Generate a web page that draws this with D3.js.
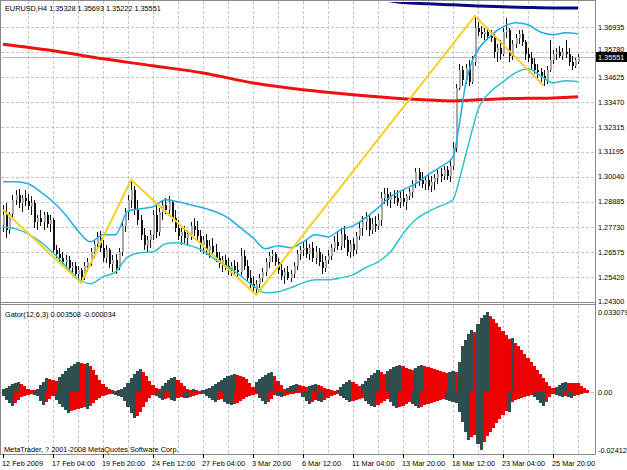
<!DOCTYPE html>
<html><head><meta charset="utf-8">
<script src="https://cdn.jsdelivr.net/npm/d3@7"></script>
<style>
html,body{margin:0;padding:0;background:#fff;}
svg{display:block;font-family:"Liberation Sans",Arial,sans-serif;}
</style></head><body>
<svg id="c" width="627" height="470"></svg>
<script>
const symbolTitle = "EURUSD,H4  1.35328 1.35693 1.35222 1.35551";
const gatorTitle = "Gator(12,6,3) 0.003508 -0.000034";
const copyright = "MetaTrader, ? 2001-2008 MetaQuotes Software Corp.";
const timeLabelBars = [0,16,32,48,64,80,96,112,128,144,160,176];
const timeLabels = ["12 Feb 2009","17 Feb 04:00","19 Feb 20:00","24 Feb 12:00","27 Feb 04:00","3 Mar 20:00","6 Mar 12:00","11 Mar 04:00","13 Mar 20:00","18 Mar 12:00","23 Mar 04:00","25 Mar 20:00"];
const priceTicks = [1.36935,1.35780,1.34625,1.33470,1.32315,1.31195,1.30040,1.28885,1.27730,1.26575,1.25420,1.24300];
const priceTickLabels = ["1.36935","1.35780","1.34625","1.33470","1.32315","1.31195","1.30040","1.28885","1.27730","1.26575","1.25420","1.24300"];
const gatorTicks = [0.033079,0.0,-0.02412];
const gatorTickLabels = ["0.033079","0.00","-0.02412"];
const bidPrice = 1.35551;
const bidLabel = "1.35551";

const open = [1.2783,1.2829,1.2760,1.2833,1.2898,1.2921,1.2884,1.2907,1.2893,1.2870,
1.2884,1.2797,1.2815,1.2797,1.2829,1.2787,1.2806,1.2667,1.2649,1.2631,
1.2612,1.2621,1.2585,1.2594,1.2557,1.2575,1.2543,1.2594,1.2612,1.2658,
1.2695,1.2723,1.2677,1.2631,1.2667,1.2603,1.2621,1.2585,1.2658,1.2778,
1.2843,1.2898,1.2944,1.2852,1.2806,1.2737,1.2691,1.2714,1.2737,1.2829,
1.2750,1.2843,1.2875,1.2852,1.2889,1.2815,1.2769,1.2732,1.2750,1.2723,
1.2741,1.2778,1.2760,1.2732,1.2691,1.2714,1.2667,1.2686,1.2658,1.2631,
1.2603,1.2621,1.2594,1.2575,1.2594,1.2575,1.2566,1.2640,1.2594,1.2538,
1.2511,1.2492,1.2511,1.2538,1.2566,1.2612,1.2640,1.2649,1.2612,1.2575,
1.2548,1.2566,1.2538,1.2557,1.2594,1.2649,1.2667,1.2677,1.2649,1.2677,
1.2631,1.2658,1.2612,1.2585,1.2621,1.2640,1.2677,1.2704,1.2686,1.2741,
1.2714,1.2658,1.2695,1.2667,1.2732,1.2769,1.2797,1.2815,1.2760,1.2787,
1.2778,1.2806,1.2907,1.2926,1.2898,1.2916,1.2907,1.2889,1.2907,1.2889,
1.2916,1.2935,1.2972,1.3027,1.2990,1.2972,1.2990,1.2963,1.2981,1.2999,
1.3018,1.3009,1.3036,1.3009,1.3055,1.3138,1.3414,1.3497,1.3451,1.3507,
1.3442,1.3534,1.3691,1.3672,1.3663,1.3672,1.3654,1.3645,1.3580,1.3599,
1.3571,1.3672,1.3682,1.3562,1.3617,1.3645,1.3663,1.3626,1.3571,1.3553,
1.3525,1.3497,1.3488,1.3470,1.3451,1.3497,1.3543,1.3571,1.3580,1.3562,
1.3580,1.3571,1.3534,1.3516,1.35328];
const high = [1.2875,1.2884,1.2843,1.2921,1.2944,1.2949,1.2921,1.2944,1.2926,1.2916,
1.2898,1.2829,1.2852,1.2843,1.2843,1.2829,1.2815,1.2691,1.2677,1.2658,
1.2644,1.2640,1.2612,1.2612,1.2594,1.2585,1.2612,1.2631,1.2677,1.2714,
1.2750,1.2755,1.2714,1.2691,1.2677,1.2644,1.2649,1.2677,1.2797,1.2861,
1.2921,1.2990,1.2963,1.2898,1.2829,1.2769,1.2732,1.2760,1.2852,1.2875,
1.2861,1.2898,1.2907,1.2916,1.2898,1.2852,1.2806,1.2769,1.2778,1.2760,
1.2797,1.2815,1.2801,1.2760,1.2732,1.2741,1.2714,1.2723,1.2695,1.2658,
1.2640,1.2644,1.2631,1.2612,1.2621,1.2612,1.2677,1.2667,1.2621,1.2575,
1.2548,1.2529,1.2557,1.2585,1.2631,1.2658,1.2667,1.2658,1.2631,1.2612,
1.2585,1.2594,1.2575,1.2612,1.2667,1.2686,1.2704,1.2714,1.2695,1.2704,
1.2686,1.2677,1.2649,1.2640,1.2667,1.2695,1.2732,1.2750,1.2769,1.2778,
1.2732,1.2714,1.2723,1.2750,1.2797,1.2824,1.2843,1.2833,1.2815,1.2824,
1.2833,1.2935,1.2953,1.2953,1.2935,1.2944,1.2944,1.2935,1.2944,1.2926,
1.2953,1.2990,1.3046,1.3046,1.3027,1.3009,1.3018,1.3009,1.3018,1.3036,
1.3046,1.3055,1.3055,1.3082,1.3165,1.3433,1.3525,1.3516,1.3525,1.3543,
1.3562,1.3746,1.3719,1.3700,1.3691,1.3691,1.3682,1.3663,1.3617,1.3636,
1.3691,1.3737,1.3691,1.3636,1.3663,1.3682,1.3682,1.3636,1.3599,1.3580,
1.3553,1.3525,1.3507,1.3497,1.3516,1.3636,1.3589,1.3599,1.3608,1.3599,
1.3636,1.3599,1.3562,1.3553,1.35693];
const low = [1.2750,1.2723,1.2741,1.2820,1.2875,1.2861,1.2843,1.2870,1.2852,1.2829,
1.2769,1.2760,1.2778,1.2760,1.2769,1.2750,1.2654,1.2631,1.2612,1.2598,
1.2575,1.2566,1.2548,1.2538,1.2529,1.2515,1.2529,1.2566,1.2594,1.2631,
1.2667,1.2658,1.2612,1.2608,1.2585,1.2566,1.2557,1.2575,1.2640,1.2750,
1.2806,1.2861,1.2829,1.2783,1.2714,1.2667,1.2658,1.2677,1.2714,1.2723,
1.2732,1.2806,1.2833,1.2833,1.2797,1.2750,1.2714,1.2691,1.2695,1.2686,
1.2714,1.2732,1.2714,1.2658,1.2649,1.2644,1.2631,1.2640,1.2612,1.2585,
1.2566,1.2575,1.2552,1.2548,1.2557,1.2538,1.2552,1.2575,1.2520,1.2492,
1.2474,1.2460,1.2492,1.2520,1.2548,1.2585,1.2612,1.2594,1.2557,1.2529,
1.2511,1.2529,1.2520,1.2538,1.2575,1.2621,1.2640,1.2631,1.2621,1.2612,
1.2603,1.2594,1.2557,1.2566,1.2603,1.2621,1.2658,1.2667,1.2667,1.2677,
1.2640,1.2631,1.2640,1.2649,1.2714,1.2732,1.2760,1.2732,1.2741,1.2750,
1.2760,1.2778,1.2880,1.2870,1.2861,1.2880,1.2870,1.2861,1.2870,1.2852,
1.2898,1.2907,1.2953,1.2963,1.2953,1.2944,1.2944,1.2935,1.2944,1.2972,
1.2981,1.2990,1.2990,1.2981,1.3036,1.3119,1.3405,1.3424,1.3433,1.3424,
1.3433,1.3516,1.3654,1.3645,1.3636,1.3636,1.3626,1.3553,1.3534,1.3543,
1.3562,1.3645,1.3534,1.3543,1.3599,1.3617,1.3608,1.3543,1.3534,1.3497,
1.3479,1.3460,1.3442,1.3424,1.3433,1.3488,1.3525,1.3543,1.3553,1.3543,
1.3553,1.3516,1.3497,1.3507,1.35222];
const close = [1.2829,1.2760,1.2833,1.2898,1.2921,1.2884,1.2907,1.2893,1.2870,1.2884,
1.2797,1.2815,1.2797,1.2829,1.2787,1.2806,1.2667,1.2649,1.2631,1.2612,
1.2621,1.2585,1.2594,1.2557,1.2575,1.2543,1.2594,1.2612,1.2658,1.2695,
1.2723,1.2677,1.2631,1.2667,1.2603,1.2621,1.2585,1.2658,1.2778,1.2843,
1.2898,1.2944,1.2852,1.2806,1.2737,1.2691,1.2714,1.2737,1.2829,1.2750,
1.2843,1.2875,1.2852,1.2889,1.2815,1.2769,1.2732,1.2750,1.2723,1.2741,
1.2778,1.2760,1.2732,1.2691,1.2714,1.2667,1.2686,1.2658,1.2631,1.2603,
1.2621,1.2594,1.2575,1.2594,1.2575,1.2566,1.2640,1.2594,1.2538,1.2511,
1.2492,1.2511,1.2538,1.2566,1.2612,1.2640,1.2649,1.2612,1.2575,1.2548,
1.2566,1.2538,1.2557,1.2594,1.2649,1.2667,1.2677,1.2649,1.2677,1.2631,
1.2658,1.2612,1.2585,1.2621,1.2640,1.2677,1.2704,1.2686,1.2741,1.2714,
1.2658,1.2695,1.2667,1.2732,1.2769,1.2797,1.2815,1.2760,1.2787,1.2778,
1.2806,1.2907,1.2926,1.2898,1.2916,1.2907,1.2889,1.2907,1.2889,1.2916,
1.2935,1.2972,1.3027,1.2990,1.2972,1.2990,1.2963,1.2981,1.2999,1.3018,
1.3009,1.3036,1.3009,1.3055,1.3138,1.3414,1.3497,1.3451,1.3507,1.3442,
1.3534,1.3691,1.3672,1.3663,1.3672,1.3654,1.3645,1.3580,1.3599,1.3571,
1.3672,1.3682,1.3562,1.3617,1.3645,1.3663,1.3626,1.3571,1.3553,1.3525,
1.3497,1.3488,1.3470,1.3451,1.3497,1.3543,1.3571,1.3580,1.3562,1.3580,
1.3571,1.3534,1.3516,1.3543,1.35551];

const bandBars = [0,4,8,12,16,20,24,28,32,36,40,44,48,52,56,60,64,68,72,76,80,84,88,92,96,100,104,108,112,116,120,124,128,132,136,140,144,146,148,150,152,156,160,164,168,172,176,180,184];
const upperBand = [1.2981,1.2981,1.2972,1.2935,1.2889,1.2829,1.2755,1.2704,1.2737,1.2737,1.2847,1.2857,1.2866,1.2898,1.2889,1.2875,1.2861,1.2843,1.2815,1.2769,1.2723,1.2672,1.2686,1.2677,1.2704,1.2737,1.2727,1.2760,1.2778,1.2815,1.2861,1.2912,1.2944,1.2972,1.3013,1.3050,1.3096,1.3244,1.3428,1.3534,1.3590,1.3654,1.3696,1.3714,1.3705,1.3672,1.3659,1.3668,1.3663];
const lowerBand = [1.2774,1.2764,1.2741,1.2704,1.2654,1.2594,1.2534,1.2511,1.2543,1.2566,1.2635,1.2654,1.2658,1.2695,1.2700,1.2686,1.2663,1.2621,1.2589,1.2548,1.2502,1.2469,1.2474,1.2492,1.2515,1.2529,1.2529,1.2538,1.2552,1.2585,1.2612,1.2658,1.2741,1.2806,1.2843,1.2870,1.2898,1.2990,1.3101,1.3211,1.3313,1.3396,1.3442,1.3483,1.3502,1.3470,1.3437,1.3447,1.3442];

const maBars = [0,16,32,48,64,80,96,112,128,144,152,160,176,184];
const maRed = [1.3615,1.3585,1.3548,1.3516,1.3483,1.3437,1.3405,1.3382,1.3364,1.3354,1.3359,1.3364,1.3368,1.3373];
const navyBars = [120,128,136,144,152,160,168,176,184];
const maNavy = [1.3825,1.3808,1.3802,1.3797,1.3792,1.3788,1.3785,1.3783,1.3783];

const zigzagBars = [0,25,41,81,151,173];
const zigzagPrices = [1.2852,1.2515,1.2990,1.2460,1.3746,1.3424];

const gatorUp = [0.0012,0.0017,0.0025,0.0033,0.0037,0.0041,0.0033,0.0025,0.0012,0.0008,
0.0008,0.0012,0.0029,0.0041,0.0058,0.0054,0.0050,0.0045,0.0062,0.0074,
0.0087,0.0099,0.0107,0.0116,0.0124,0.0120,0.0116,0.0120,0.0107,0.0091,
0.0070,0.0050,0.0033,0.0021,0.0012,0.0008,0.0004,0.0008,0.0012,0.0021,
0.0037,0.0058,0.0074,0.0087,0.0095,0.0083,0.0066,0.0045,0.0029,0.0017,
0.0012,0.0025,0.0037,0.0050,0.0058,0.0062,0.0050,0.0037,0.0025,0.0012,
0.0008,0.0012,0.0008,0.0004,0.0008,0.0012,0.0017,0.0025,0.0033,0.0041,
0.0050,0.0058,0.0066,0.0070,0.0074,0.0070,0.0066,0.0062,0.0054,0.0037,
0.0021,0.0041,0.0054,0.0062,0.0070,0.0078,0.0083,0.0066,0.0045,0.0029,
0.0012,0.0017,0.0025,0.0029,0.0033,0.0029,0.0025,0.0021,0.0025,0.0029,
0.0033,0.0029,0.0025,0.0017,0.0012,0.0008,0.0004,0.0008,0.0021,0.0033,
0.0041,0.0050,0.0041,0.0033,0.0025,0.0033,0.0045,0.0058,0.0070,0.0078,
0.0091,0.0083,0.0074,0.0087,0.0095,0.0103,0.0107,0.0112,0.0107,0.0099,
0.0095,0.0091,0.0099,0.0107,0.0112,0.0107,0.0103,0.0099,0.0095,0.0091,
0.0087,0.0083,0.0078,0.0083,0.0087,0.0083,0.0124,0.0190,0.0215,0.0240,
0.0256,0.0248,0.0281,0.0306,0.0318,0.033079,0.0314,0.0301,0.0285,0.0268,
0.0252,0.0235,0.0219,0.0223,0.0202,0.0190,0.0173,0.0157,0.0140,0.0124,
0.0107,0.0091,0.0074,0.0058,0.0041,0.0025,0.0017,0.0021,0.0029,0.0037,
0.0041,0.0039,0.0037,0.0036,0.003508,0.0025,0.0017,0.0008];
const gatorDown = [-0.0017,-0.0033,-0.0045,-0.0058,-0.0045,-0.0033,-0.0021,-0.0017,-0.0012,-0.0010,
-0.0012,-0.0017,-0.0037,-0.0054,-0.0041,-0.0029,-0.0017,-0.0033,-0.0050,-0.0062,
-0.0074,-0.0087,-0.0078,-0.0074,-0.0070,-0.0066,-0.0062,-0.0070,-0.0058,-0.0045,
-0.0033,-0.0025,-0.0017,-0.0012,-0.0008,-0.0010,-0.0012,-0.0017,-0.0021,-0.0037,
-0.0062,-0.0087,-0.0107,-0.0099,-0.0083,-0.0062,-0.0041,-0.0025,-0.0012,-0.0017,
-0.0025,-0.0033,-0.0029,-0.0025,-0.0033,-0.0037,-0.0025,-0.0021,-0.0023,-0.0025,
-0.0021,-0.0017,-0.0012,-0.0008,-0.0010,-0.0017,-0.0025,-0.0033,-0.0041,-0.0033,
-0.0029,-0.0041,-0.0050,-0.0054,-0.0050,-0.0045,-0.0037,-0.0029,-0.0021,-0.0017,
-0.0012,-0.0008,-0.0025,-0.0037,-0.0050,-0.0041,-0.0029,-0.0012,-0.0017,-0.0021,
-0.0017,-0.0012,-0.0010,-0.0008,-0.0006,-0.0004,-0.0021,-0.0037,-0.0050,-0.0041,
-0.0033,-0.0037,-0.0041,-0.0033,-0.0025,-0.0017,-0.0012,-0.0008,-0.0017,-0.0025,
-0.0033,-0.0041,-0.0037,-0.0033,-0.0029,-0.0025,-0.0037,-0.0050,-0.0058,-0.0062,
-0.0054,-0.0045,-0.0037,-0.0029,-0.0041,-0.0058,-0.0066,-0.0062,-0.0058,-0.0050,
-0.0041,-0.0050,-0.0058,-0.0066,-0.0062,-0.0054,-0.0050,-0.0045,-0.0041,-0.0037,
-0.0033,-0.0029,-0.0033,-0.0037,-0.0041,-0.0045,-0.0083,-0.0124,-0.0165,-0.0198,
-0.0186,-0.0178,-0.0215,-0.02412,-0.0207,-0.0182,-0.0165,-0.0149,-0.0128,-0.0112,
-0.0095,-0.0078,-0.0083,-0.0041,-0.0033,-0.0029,-0.0025,-0.0021,-0.0017,-0.0012,
-0.0021,-0.0033,-0.0045,-0.0058,-0.0041,-0.0021,-0.0008,-0.0012,-0.0017,-0.0021,
-0.0017,-0.0021,-0.0025,-0.0017,-0.0012,-0.0008,-0.0006,-0.0004];

// ---------- drawing ----------
const svg = d3.select("#c");
const FS = 7.3;
const L = 1, R = 595, mainTop = 1, mainBottom = 302, gTop = 305, gBottom = 454;
const x = d3.scaleLinear().domain([0, 184]).range([3, 578]);
const y = d3.scaleLinear().domain([1.25420, 1.36935]).range([277, 27.3]);
const yg = d3.scaleLinear().domain([-0.02412, 0.033079]).range([450.3, 312]);

const defs = svg.append("defs");
defs.append("clipPath").attr("id","cm").append("rect").attr("x",L+1).attr("y",mainTop+1).attr("width",R-L-1).attr("height",mainBottom-mainTop-1);
defs.append("clipPath").attr("id","cg").append("rect").attr("x",L+1).attr("y",gTop).attr("width",R-L-1).attr("height",gBottom-gTop);

const gridColor = "#c6c6c6";
const grid = svg.append("g").attr("stroke", gridColor).attr("stroke-width",1).attr("stroke-dasharray","3,2");
const vBars = d3.range(8, 185, 8);
grid.selectAll("line.vm").data(vBars).join("line")
  .attr("x1", d => Math.round(x(d)) + 0.5).attr("x2", d => Math.round(x(d)) + 0.5)
  .attr("y1", mainTop).attr("y2", mainBottom);
grid.selectAll("line.vg").data(vBars).join("line").attr("class","vg")
  .attr("x1", d => Math.round(x(d)) + 0.5).attr("x2", d => Math.round(x(d)) + 0.5)
  .attr("y1", gTop).attr("y2", gBottom);
grid.selectAll("line.h").data(priceTicks.slice(0, 11)).join("line").attr("class","h")
  .attr("x1", L).attr("x2", R)
  .attr("y1", d => Math.round(y(d)) + 0.5).attr("y2", d => Math.round(y(d)) + 0.5);
grid.append("line").attr("x1", L).attr("x2", R)
  .attr("y1", Math.round(yg(0)) + 0.5).attr("y2", Math.round(yg(0)) + 0.5);

const main = svg.append("g").attr("clip-path","url(#cm)");
// bid line
main.append("line").attr("x1",L).attr("x2",R)
  .attr("y1", Math.round(y(bidPrice))+0.5).attr("y2", Math.round(y(bidPrice))+0.5)
  .attr("stroke","#bdbdbd").attr("stroke-width",1);

// candles
const idx = d3.range(close.length);
const cg = main.append("g").attr("shape-rendering","crispEdges");
cg.selectAll("rect.w").data(idx).join("rect").attr("class","w")
  .attr("x", i => Math.round(x(i)))
  .attr("width", 1)
  .attr("y", i => y(high[i]))
  .attr("height", i => Math.max(1, y(low[i]) - y(high[i])))
  .attr("fill", "#111");
cg.selectAll("rect.b").data(idx).join("rect").attr("class","b")
  .attr("x", i => Math.round(x(i)))
  .attr("width", 2)
  .attr("y", i => y(Math.max(open[i], close[i])))
  .attr("height", i => Math.max(1, Math.abs(y(open[i]) - y(close[i]))))
  .attr("fill", i => close[i] >= open[i] ? "#a8a8a8" : "#111");

const line = (bars, vals, sc) => d3.line().x((d,i)=>x(bars[i])).y((d)=>sc(d)).curve(d3.curveMonotoneX)(vals);
main.append("path").attr("d", line(maBars, maRed, y)).attr("fill","none").attr("stroke","#f01010").attr("stroke-width",3);
main.append("path").attr("d", line(navyBars, maNavy, y)).attr("fill","none").attr("stroke","#0a0a80").attr("stroke-width",3);
main.append("path").attr("d", line(bandBars, upperBand, y)).attr("fill","none").attr("stroke","#1eaee8").attr("stroke-width",1.5);
main.append("path").attr("d", line(bandBars, lowerBand, y)).attr("fill","none").attr("stroke","#2cc3cc").attr("stroke-width",1.5);
main.append("path").attr("d", d3.line().x((d,i)=>x(zigzagBars[i])).y(d=>y(d))(zigzagPrices))
  .attr("fill","none").attr("stroke","#f5d020").attr("stroke-width",2);

// gator
const gg = svg.append("g").attr("clip-path","url(#cg)").attr("shape-rendering","crispEdges");
const DARK = "#2f4f4f", RED = "#ee0000";
function colors(vals){
  const out = []; let c = DARK;
  vals.forEach((v,i)=>{ if(i>0){ const a=Math.abs(v), b=Math.abs(vals[i-1]); if(a>b) c=DARK; else if(a<b) c=RED; } out.push(c); });
  return out;
}
const upC = colors(gatorUp), dnC = colors(gatorDown);
const gx0 = i => Math.round(x(i - 0.5)), gx1 = i => Math.round(x(i + 0.5));
const z = Math.round(yg(0));
gg.selectAll("rect.u").data(gatorUp).join("rect").attr("class","u")
  .attr("x",(d,i)=>gx0(i)).attr("width",(d,i)=>gx1(i)-gx0(i))
  .attr("y", d => Math.round(yg(d))).attr("height", d => z - Math.round(yg(d)))
  .attr("fill",(d,i)=>upC[i]);
gg.selectAll("rect.d").data(gatorDown).join("rect").attr("class","d")
  .attr("x",(d,i)=>gx0(i)).attr("width",(d,i)=>gx1(i)-gx0(i))
  .attr("y", z).attr("height", d => Math.round(yg(d)) - z)
  .attr("fill",(d,i)=>dnC[i]);

// frame
const fr = svg.append("g").attr("stroke","#8a8a8a").attr("stroke-width",1).attr("shape-rendering","crispEdges");
fr.append("line").attr("x1",0.5).attr("x2",0.5).attr("y1",0).attr("y2",gBottom);
fr.append("line").attr("x1",0).attr("x2",R).attr("y1",0.5).attr("y2",0.5);
fr.append("line").attr("x1",R+0.5).attr("x2",R+0.5).attr("y1",0).attr("y2",gBottom+1);
fr.append("line").attr("x1",0).attr("x2",R+1).attr("y1",mainBottom+0.5).attr("y2",mainBottom+0.5);
fr.append("line").attr("x1",0).attr("x2",R+1).attr("y1",mainBottom+2.5).attr("y2",mainBottom+2.5);
fr.append("line").attr("x1",0).attr("x2",R+1).attr("y1",gBottom+0.5).attr("y2",gBottom+0.5);
fr.selectAll("line.t").data(timeLabelBars).join("line").attr("class","t")
  .attr("x1", d => Math.round(x(d))+0.5).attr("x2", d => Math.round(x(d))+0.5)
  .attr("y1", gBottom).attr("y2", gBottom+4).attr("stroke","#000");

// texts
const txt = svg.append("g").attr("font-size", FS).attr("fill","#000");
txt.append("text").attr("x",5).attr("y",11).text(symbolTitle);
txt.append("text").attr("x",5).attr("y",317).text(gatorTitle);
txt.append("text").attr("x",4).attr("y",452).text(copyright);
// price labels; the one sitting under the bid box is nudged just above it
const bidY = Math.round(y(bidPrice));
txt.selectAll("text.p").data(priceTicks).join("text").attr("class","p")
  .attr("x", 598)
  .attr("y", d => { const yy = y(d) + 2.6; return Math.abs(y(d) - bidY) < 9 ? Math.min(yy, bidY - 5.5) : yy; })
  .text((d,i)=>priceTickLabels[i]);
txt.selectAll("text.g").data(gatorTicks).join("text").attr("class","g")
  .attr("x", 598).attr("y", d => yg(d) + 2.6).text((d,i)=>gatorTickLabels[i]);
txt.selectAll("text.t").data(timeLabelBars).join("text").attr("class","t")
  .attr("x", d => x(d) - 1).attr("y", 466).text((d,i)=>timeLabels[i]);
// bid label
svg.append("rect").attr("x",596).attr("y",bidY-5).attr("width",31).attr("height",10).attr("fill","#000");
svg.append("text").attr("x",598).attr("y",y(bidPrice)+2.6).attr("font-size",FS).attr("fill","#fff").text(bidLabel);
</script>
</body></html>
